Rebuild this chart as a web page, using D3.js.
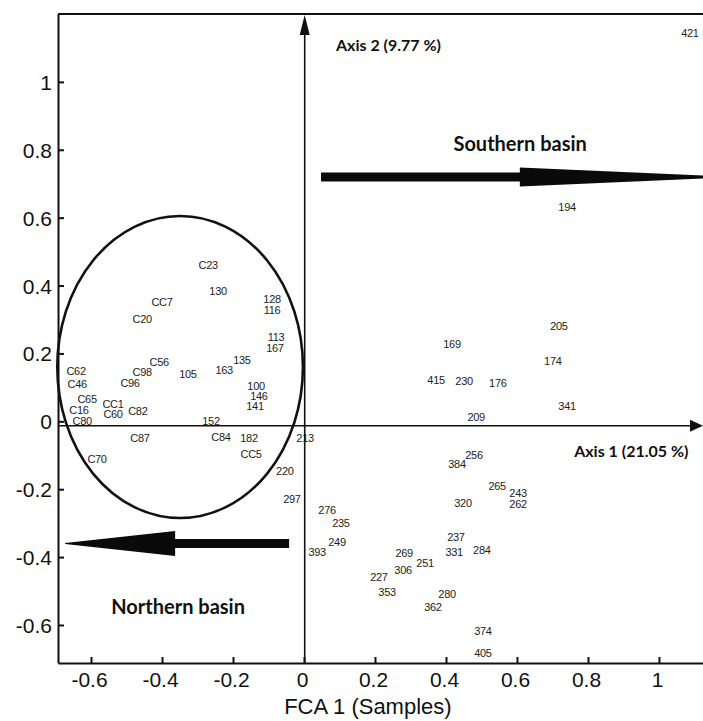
<!DOCTYPE html>
<html>
<head>
<meta charset="utf-8">
<script src="https://d3js.org/d3.v7.min.js"></script>
<style>
  body { margin: 0; background: #fff; }
  text { font-family: "Liberation Sans", Arial, sans-serif; }
</style>
</head>
<body>
<svg width="703" height="721"></svg>
<script>
// sample labels and their FCA coordinates
var samples = ["C23","130","CC7","C20","128","116","113","167","135","163",
  "C56","C98","105","C62","C46","C96","100","146","141","C65",
  "CC1","C16","C60","C82","C80","152","C87","C84","182","CC5",
  "C70","213","220","297","276","235","249","393","269","306",
  "251","227","353","237","331","284","280","362","374","405",
  "256","384","265","243","262","320","205","169","174","415",
  "230","176","341","209","194","421"];
var fca1 = [-0.270,-0.242,-0.400,-0.456,-0.090,-0.090,-0.079,-0.082,-0.175,-0.225,
  -0.408,-0.456,-0.327,-0.642,-0.639,-0.490,-0.135,-0.127,-0.138,-0.611,
  -0.538,-0.634,-0.538,-0.468,-0.625,-0.262,-0.462,-0.234,-0.155,-0.149,
  -0.583,0.003,-0.054,-0.034,0.065,0.104,0.093,0.037,0.282,0.279,
  0.341,0.211,0.234,0.428,0.423,0.501,0.403,0.363,0.504,0.504,
  0.479,0.431,0.544,0.603,0.603,0.448,0.718,0.417,0.701,0.372,
  0.451,0.546,0.741,0.485,0.741,1.087];
var fca2 = [0.461,0.384,0.352,0.302,0.361,0.328,0.249,0.216,0.181,0.151,
  0.175,0.146,0.140,0.149,0.110,0.113,0.104,0.075,0.045,0.066,
  0.051,0.034,0.022,0.031,0.001,0.001,-0.049,-0.046,-0.049,-0.096,
  -0.111,-0.049,-0.146,-0.229,-0.261,-0.299,-0.355,-0.385,-0.388,-0.438,
  -0.417,-0.458,-0.503,-0.341,-0.385,-0.379,-0.509,-0.547,-0.618,-0.682,
  -0.099,-0.126,-0.190,-0.211,-0.243,-0.240,0.281,0.228,0.178,0.122,
  0.119,0.113,0.045,0.013,0.632,1.144];

var xTicks = [-0.6,-0.4,-0.2,0,0.2,0.4,0.6,0.8,1];
var yTicks = [-0.6,-0.4,-0.2,0,0.2,0.4,0.6,0.8,1];

// northern group ellipse (centre and radii in axis units)
var groupEllipse = {cx: -0.349, cy: 0.160, rx: 0.346, ry: 0.445};

var svg = d3.select("svg");
var x = d3.scaleLinear().domain([-0.693, 1.124]).range([58, 703]);
var y = d3.scaleLinear().domain([-0.712, 1.2]).range([663, 14]);

// plain hyphen for negatives, as in the original
var fmt = function(d) { return String(+d.toFixed(1)).replace("\u2212", "-"); };

// axes, ticks pointing inward
var xAxis = d3.axisBottom(x).tickValues(xTicks).tickSizeInner(-6).tickSizeOuter(0)
  .tickPadding(9).tickFormat(fmt);
var gx = svg.append("g").attr("transform", "translate(0," + y.range()[0] + ")").call(xAxis);
var yAxis = d3.axisLeft(y).tickValues(yTicks).tickSizeInner(-6).tickSizeOuter(0)
  .tickPadding(6).tickFormat(fmt);
var gy = svg.append("g").attr("transform", "translate(" + x.range()[0] + ",0)").call(yAxis);

[gx, gy].forEach(function(g) {
  g.select(".domain").attr("stroke", "#111").attr("stroke-width", 2);
  g.selectAll(".tick line").attr("stroke", "#111").attr("stroke-width", 2);
  g.selectAll(".tick text").attr("fill", "#111").style("font-size", "21px")
    .style("font-family", "'Liberation Sans', Arial, sans-serif");
});
gx.selectAll(".tick text").attr("dx", "-2");
gy.selectAll(".tick text").attr("dy", "0.36em");

// top border
svg.append("line")
  .attr("x1", x.range()[0]).attr("x2", x.range()[1])
  .attr("y1", y.range()[1]).attr("y2", y.range()[1])
  .attr("stroke", "#111").attr("stroke-width", 2);

// inner axis 1 (horizontal) with arrow
var axis1Y = y(-0.013);
svg.append("line")
  .attr("x1", x.range()[0]).attr("x2", x.range()[1] - 8)
  .attr("y1", axis1Y).attr("y2", axis1Y)
  .attr("stroke", "#111").attr("stroke-width", 1.6);
svg.append("path")
  .attr("d", "M" + (x.range()[1] - 13) + "," + (axis1Y - 6) + "L" + x.range()[1] + "," + axis1Y +
    "L" + (x.range()[1] - 13) + "," + (axis1Y + 6) + "Z")
  .attr("fill", "#111");

// inner axis 2 (vertical) with arrow
var axis2X = x(0.002);
svg.append("line")
  .attr("x1", axis2X).attr("x2", axis2X)
  .attr("y1", y.range()[0]).attr("y2", y.range()[1] + 14)
  .attr("stroke", "#111").attr("stroke-width", 1.6);
svg.append("path")
  .attr("d", "M" + (axis2X - 5) + "," + (y.range()[1] + 21) + "L" + axis2X + "," + (y.range()[1] + 1) +
    "L" + (axis2X + 5) + "," + (y.range()[1] + 21) + "Z")
  .attr("fill", "#111");

svg.append("text").text("Axis 2 (9.77 %)")
  .attr("x", x(0.09)).attr("y", y(1.09))
  .style("font-family", "Lato, 'Open Sans', sans-serif").style("font-weight", "bold")
  .style("font-size", "16px").attr("fill", "#111");
svg.append("text").text("Axis 1 (21.05 %)")
  .attr("x", x(0.761)).attr("y", y(-0.104))
  .style("font-family", "Lato, 'Open Sans', sans-serif").style("font-weight", "bold")
  .style("font-size", "16px").attr("fill", "#111");

// ellipse around the northern samples
svg.append("ellipse")
  .attr("cx", x(groupEllipse.cx)).attr("cy", y(groupEllipse.cy))
  .attr("rx", x(groupEllipse.rx) - x(0)).attr("ry", y(0) - y(groupEllipse.ry))
  .attr("fill", "none").attr("stroke", "#111").attr("stroke-width", 2.6);

// basin arrows
function basinArrow(xStart, xHead, xTip, yc, shaftHalf, headHalf, tipHalf) {
  var sx = x(xStart), hx = x(xHead), tx = x(xTip), cy = y(yc);
  var d = "M" + sx + "," + (cy - shaftHalf) + "L" + hx + "," + (cy - shaftHalf) +
    "L" + hx + "," + (cy - headHalf) + "L" + tx + "," + (cy - tipHalf) +
    "L" + tx + "," + (cy + tipHalf) + "L" + hx + "," + (cy + headHalf) +
    "L" + hx + "," + (cy + shaftHalf) + "L" + sx + "," + (cy + shaftHalf) + "Z";
  svg.append("path").attr("d", d).attr("fill", "#0a0a0a");
}
basinArrow(0.048, 0.608, 1.124, 0.72, 4.5, 9.5, 1.5);
basinArrow(-0.042, -0.363, -0.673, -0.36, 4.5, 12.5, 0.5);

svg.append("text").text("Southern basin")
  .attr("x", x(0.421)).attr("y", y(0.795))
  .style("font-family", "Lato, 'Open Sans', sans-serif").style("font-weight", "bold")
  .style("font-size", "20px").attr("fill", "#111");
svg.append("text").text("Northern basin")
  .attr("x", x(-0.543)).attr("y", y(-0.567))
  .style("font-family", "Lato, 'Open Sans', sans-serif").style("font-weight", "bold")
  .style("font-size", "20px").attr("fill", "#111");

// sample labels (slight opacity keeps the small text grey-scale antialiased)
svg.append("g").attr("opacity", 0.99).selectAll("text")
  .data(samples)
  .join("text")
  .text(function(d) { return d; })
  .attr("x", function(d, i) { return x(fca1[i]); })
  .attr("y", function(d, i) { return y(fca2[i]); })
  .attr("dy", "0.36em")
  .attr("text-anchor", "middle")
  .style("font-size", "11px")
  .style("letter-spacing", "-0.3px")
  .attr("fill", "#1a1a1a");

// x axis title
svg.append("text").text("FCA 1 (Samples)")
  .attr("x", x(0.18)).attr("y", 714)
  .attr("text-anchor", "middle")
  .style("font-size", "22px").attr("fill", "#111");
</script>
</body>
</html>
